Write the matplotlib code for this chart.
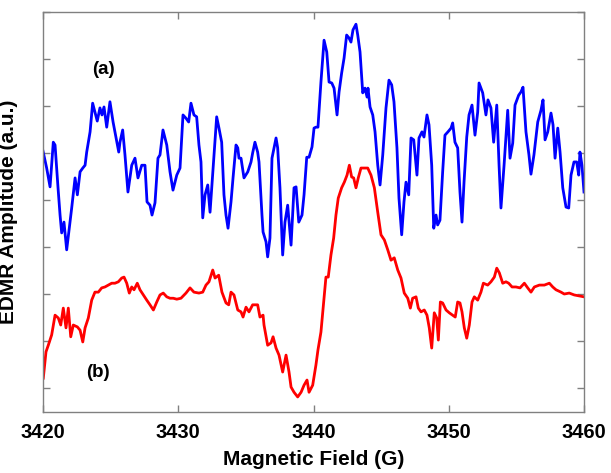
import matplotlib
matplotlib.use("Agg")
import matplotlib.pyplot as plt

plt.rcParams["font.family"] = ["Liberation Sans", "DejaVu Sans"]

# Trace (a): EDMR spectrum, field in gauss, amplitude in arbitrary units
field_a = [
    3420.00, 3420.27, 3420.52, 3420.76, 3420.89, 3421.11, 3421.26, 3421.38, 3421.55, 3421.75,
    3421.94, 3422.12, 3422.37, 3422.54, 3422.74, 3422.94, 3423.11, 3423.23, 3423.48, 3423.67,
    3423.84, 3424.01, 3424.21, 3424.36, 3424.51, 3424.71, 3424.95, 3425.18, 3425.40, 3425.60,
    3425.69, 3425.89, 3426.06, 3426.28, 3426.56, 3426.80, 3427.02, 3427.30, 3427.54, 3427.69,
    3427.91, 3428.06, 3428.28, 3428.50, 3428.65, 3428.87, 3429.15, 3429.39, 3429.61, 3429.89,
    3430.13, 3430.35, 3430.57, 3430.77, 3430.94, 3431.16, 3431.36, 3431.53, 3431.68, 3431.81,
    3431.98, 3432.18, 3432.35, 3432.64, 3432.84, 3433.01, 3433.21, 3433.38, 3433.53, 3433.68,
    3433.90, 3434.05, 3434.27, 3434.40, 3434.49, 3434.64, 3434.86, 3435.14, 3435.38, 3435.50,
    3435.67, 3435.87, 3435.97, 3436.19, 3436.27, 3436.49, 3436.61, 3436.78, 3436.93, 3437.08,
    3437.23, 3437.35, 3437.52, 3437.72, 3437.89, 3438.09, 3438.34, 3438.56, 3438.71, 3438.91,
    3439.15, 3439.30, 3439.50, 3439.67, 3439.89, 3440.04, 3440.18, 3440.33, 3440.55, 3440.78,
    3440.98, 3441.15, 3441.35, 3441.52, 3441.74, 3441.89, 3442.08, 3442.26, 3442.45, 3442.62,
    3442.77, 3442.92, 3443.14, 3443.27, 3443.44, 3443.64, 3443.81, 3443.96, 3444.03, 3444.18,
    3444.38, 3444.55, 3444.75, 3444.92, 3445.12, 3445.36, 3445.58, 3445.78, 3445.95, 3446.17,
    3446.32, 3446.52, 3446.69, 3446.84, 3447.04, 3447.21, 3447.41, 3447.65, 3447.80, 3448.02,
    3448.17, 3448.39, 3448.54, 3448.74, 3448.89, 3449.06, 3449.18, 3449.35, 3449.55, 3449.72,
    3449.94, 3450.17, 3450.29, 3450.46, 3450.66, 3450.83, 3450.98, 3451.13, 3451.33, 3451.50,
    3451.72, 3451.84, 3451.94, 3452.14, 3452.24, 3452.51, 3452.75, 3452.90, 3453.12, 3453.32,
    3453.55, 3453.72, 3453.86, 3454.09, 3454.36, 3454.53, 3454.73, 3454.90, 3455.17, 3455.34,
    3455.49, 3455.71, 3455.93, 3456.08, 3456.30, 3456.58, 3456.82, 3456.97, 3457.12, 3457.32,
    3457.56, 3457.71, 3457.86, 3458.06, 3458.23, 3458.43, 3458.67, 3458.87, 3459.04, 3459.26,
    3459.46, 3459.61, 3459.70, 3459.85, 3460.00,
]
amp_a = [
    50.4, 46.8, 42.8, 52.3, 51.7, 42.6, 36.8, 33.0, 35.3, 29.4,
    34.0, 38.3, 44.7, 41.1, 46.0, 46.8, 47.4, 50.2, 54.5, 60.6,
    58.7, 56.8, 59.6, 58.1, 59.8, 55.5, 60.9, 56.6, 53.2, 50.2,
    52.3, 54.9, 49.6, 41.7, 47.4, 48.9, 44.7, 47.4, 47.4, 39.6,
    38.9, 36.8, 39.4, 48.9, 49.6, 54.9, 51.7, 46.0, 42.1, 45.3,
    46.8, 58.1, 57.4, 56.6, 60.6, 58.1, 57.7, 51.7, 48.1, 36.2,
    41.1, 43.2, 37.4, 49.6, 57.7, 55.3, 52.3, 41.1, 36.8, 34.0,
    39.6, 44.7, 51.7, 51.1, 48.9, 48.9, 44.7, 46.0, 48.1, 50.0,
    52.3, 50.2, 48.1, 36.8, 33.2, 31.1, 27.9, 31.9, 48.9, 51.1,
    53.2, 51.1, 42.6, 28.3, 35.3, 38.9, 30.4, 42.6, 42.8, 35.3,
    36.8, 41.1, 49.1, 49.1, 51.3, 55.3, 55.5, 55.5, 65.1, 74.0,
    71.5, 65.1, 64.9, 63.8, 58.1, 63.0, 67.0, 70.2, 75.1, 74.5,
    73.6, 76.2, 77.4, 75.1, 71.5, 62.8, 63.8, 61.9, 63.8, 59.8,
    58.1, 54.5, 47.4, 43.2, 49.6, 59.6, 65.5, 64.5, 60.9, 51.1,
    40.4, 32.6, 39.6, 43.8, 41.1, 53.2, 52.8, 45.3, 53.2, 54.5,
    53.4, 58.1, 56.0, 47.4, 34.0, 36.8, 34.7, 35.7, 46.0, 53.8,
    54.5, 55.3, 56.4, 52.3, 51.1, 41.7, 35.3, 43.8, 53.4, 58.1,
    60.2, 56.6, 53.8, 58.7, 64.9, 62.8, 58.1, 61.3, 59.6, 52.3,
    60.2, 47.4, 38.3, 47.4, 59.1, 48.9, 52.1, 60.2, 62.3, 63.0,
    64.0, 54.5, 49.6, 45.5, 49.6, 56.6, 59.1, 61.3, 52.8, 54.5,
    58.5, 56.0, 48.9, 55.3, 50.2, 42.6, 38.5, 38.3, 45.3, 48.1,
    48.1, 45.3, 50.2, 47.4, 41.7,
]

# Trace (b)
field_b = [
    3420.02, 3420.22, 3420.39, 3420.64, 3420.89, 3421.13, 3421.31, 3421.50, 3421.70, 3421.87,
    3422.05, 3422.24, 3422.54, 3422.74, 3422.94, 3423.11, 3423.35, 3423.60, 3423.84, 3424.09,
    3424.34, 3424.58, 3424.83, 3425.08, 3425.32, 3425.57, 3425.82, 3425.99, 3426.19, 3426.38,
    3426.56, 3426.73, 3426.97, 3427.17, 3427.42, 3427.67, 3427.91, 3428.16, 3428.41, 3428.65,
    3428.89, 3429.15, 3429.39, 3429.63, 3429.89, 3430.20, 3430.57, 3430.87, 3431.16, 3431.53,
    3431.81, 3432.05, 3432.27, 3432.55, 3432.72, 3432.99, 3433.23, 3433.53, 3433.73, 3433.90,
    3434.12, 3434.40, 3434.64, 3434.79, 3435.01, 3435.23, 3435.50, 3435.87, 3436.04, 3436.27,
    3436.34, 3436.61, 3436.86, 3437.01, 3437.23, 3437.45, 3437.72, 3437.97, 3438.19, 3438.34,
    3438.56, 3438.83, 3439.08, 3439.30, 3439.52, 3439.67, 3439.94, 3440.18, 3440.33, 3440.55,
    3440.75, 3440.92, 3441.09, 3441.29, 3441.49, 3441.66, 3441.83, 3442.08, 3442.28, 3442.48,
    3442.65, 3442.82, 3442.97, 3443.14, 3443.31, 3443.51, 3443.76, 3444.01, 3444.25, 3444.50,
    3444.75, 3444.99, 3445.24, 3445.49, 3445.73, 3445.97, 3446.23, 3446.47, 3446.71, 3446.97,
    3447.16, 3447.33, 3447.58, 3447.75, 3447.95, 3448.19, 3448.39, 3448.56, 3448.74, 3448.93,
    3449.11, 3449.23, 3449.38, 3449.55, 3449.80, 3450.04, 3450.29, 3450.48, 3450.66, 3450.83,
    3450.98, 3451.15, 3451.33, 3451.52, 3451.72, 3451.89, 3452.14, 3452.38, 3452.56, 3452.88,
    3453.12, 3453.37, 3453.55, 3453.74, 3453.99, 3454.23, 3454.43, 3454.68, 3454.97, 3455.27,
    3455.59, 3455.84, 3456.08, 3456.33, 3456.70, 3457.07, 3457.44, 3457.69, 3457.93, 3458.30,
    3458.54, 3458.91, 3459.28, 3459.65, 3460.00,
]
amp_b = [
    2.1, 7.7, 9.1, 11.3, 15.5, 14.9, 13.4, 17.0, 12.8, 17.0,
    10.9, 13.4, 13.0, 12.3, 9.8, 12.8, 14.9, 18.7, 20.4, 20.4,
    21.3, 21.5, 21.9, 22.3, 22.3, 22.6, 23.4, 23.6, 22.3, 20.2,
    21.5, 20.9, 22.3, 20.9, 19.8, 18.7, 17.7, 16.6, 18.3, 19.8,
    20.2, 19.4, 19.1, 19.1, 18.9, 19.1, 20.2, 21.3, 20.4, 20.2,
    20.4, 21.9, 22.6, 25.1, 23.4, 24.0, 20.4, 18.1, 17.7, 20.4,
    19.8, 16.6, 16.2, 15.1, 17.2, 16.2, 17.7, 17.7, 15.1, 15.5,
    13.4, 9.1, 9.6, 10.9, 8.5, 7.0, 3.4, 7.0, 3.4, 0.2,
    -0.9, -1.9, -0.9, 0.6, 1.7, -0.9, 0.6, 4.9, 8.1, 11.9,
    18.3, 23.6, 23.6, 28.3, 31.9, 36.8, 40.4, 42.6, 43.8, 45.3,
    47.4, 44.9, 44.7, 42.6, 44.7, 46.8, 46.8, 46.8, 45.3, 42.6,
    37.4, 32.6, 31.5, 29.4, 27.2, 27.7, 25.1, 23.4, 20.2, 19.1,
    17.0, 19.1, 19.4, 17.0, 16.2, 16.6, 15.5, 12.8, 8.5, 16.0,
    14.9, 10.2, 18.3, 18.1, 16.6, 16.0, 15.5, 15.1, 18.3, 18.1,
    16.2, 12.8, 10.6, 13.4, 18.3, 19.4, 18.7, 20.4, 22.3, 21.9,
    22.6, 23.6, 25.5, 24.5, 22.3, 22.6, 22.3, 21.5, 21.5, 21.3,
    22.3, 21.3, 20.4, 21.5, 21.9, 21.9, 22.3, 21.5, 20.9, 20.4,
    20.0, 20.2, 19.8, 19.6, 19.4,
]

x_ticks = [3420, 3430, 3440, 3450, 3460]
x_tick_labels = ["3420", "3430", "3440", "3450", "3460"]
y_ticks = [0, 10, 20, 30, 40, 50, 60, 70, 80]

fig = plt.figure(figsize=(6.11, 4.73), dpi=100)
ax = fig.add_axes([0.0704, 0.129, 0.8854, 0.8456])

ax.plot(field_a, amp_a, color="#0000FF", lw=2.0, solid_joinstyle="round")
ax.plot(field_b, amp_b, color="#FF0000", lw=2.0, solid_joinstyle="round")

ax.set_xlim(3420, 3460)
ax.set_ylim(-5.1, 80)
ax.set_xticks(x_ticks)
ax.set_xticklabels(x_tick_labels, fontsize=14.5, fontweight="bold")
ax.set_yticks(y_ticks)
ax.set_yticklabels([])

ax.tick_params(axis="both", which="both", direction="in", length=5, width=1,
               color="#808080", top=True, right=True, pad=8)
for s in ax.spines.values():
    s.set_color("#808080")
    s.set_linewidth(1.0)

ax.set_xlabel("Magnetic Field (G)", fontsize=15, fontweight="bold", labelpad=6)
ax.set_ylabel("EDMR Amplitude (a.u.)", fontsize=15, fontweight="bold", labelpad=10)

ax.text(3424.44, 67.7, "(a)", fontsize=13.5, fontweight="bold", ha="center", va="center")
ax.text(3424.07, 3.4, "(b)", fontsize=13.5, fontweight="bold", ha="center", va="center")

fig.savefig("out.png", dpi=100)
